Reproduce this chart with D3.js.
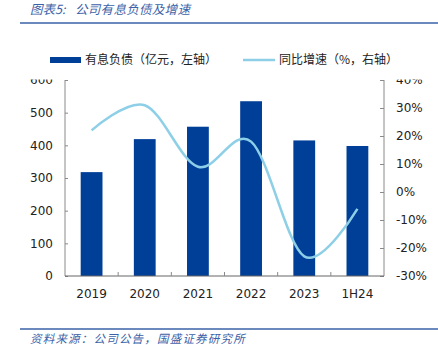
<!DOCTYPE html>
<html><head><meta charset="utf-8">
<script src="https://cdn.jsdelivr.net/npm/d3@7"></script>
<style>body{margin:0;background:#fff}svg{display:block}</style>
</head><body>
<svg id="c" width="438" height="345"></svg>
<script>
const categories = ["2019","2020","2021","2022","2023","1H24"];
const debt = [318, 419, 457, 535, 415, 398];
const growth = [22, 31, 9, 18, -23, -6];
const leftTicks = [0,100,200,300,400,500,600];
const rightTicks = [-30,-20,-10,0,10,20,30,40];

const svg = d3.select("#c");
const fontNum = "DejaVu Sans, sans-serif";
const fontCJK = "'Noto Sans CJK SC', sans-serif";
const blue = "#3B62A8";

// title
svg.append("text").attr("x",30).attr("y",14).attr("font-family",fontCJK).attr("font-size",12.5)
  .attr("font-style","italic").attr("fill",blue).text("图表5:");
svg.append("text").attr("x",75).attr("y",14).attr("font-family",fontCJK).attr("font-size",12.5)
  .attr("letter-spacing",0.3).attr("font-style","italic").attr("fill",blue).text("公司有息负债及增速");
svg.append("line").attr("x1",20).attr("x2",438).attr("y1",23).attr("y2",23).attr("stroke",blue).attr("stroke-width",1.5);

const x0=65, x1=384, yB=276, yT=80;
const x = d3.scaleBand().domain(categories).range([x0,x1]).paddingInner(0.59).paddingOuter(0.295);
const xb = d3.scaleBand().domain(categories).range([x0,x1]);
const yL = d3.scaleLinear().domain([0,600]).range([yB,yT]);
const yR = d3.scaleLinear().domain([-30,40]).range([yB,yT]);

svg.append("defs").append("clipPath").attr("id","clipT").append("rect").attr("x",0).attr("y",79.5).attr("width",438).attr("height",240);

// bars
svg.append("g").selectAll("rect").data(debt).join("rect")
  .attr("x",(d,i)=>x(categories[i])).attr("width",x.bandwidth())
  .attr("y",d=>yL(d)).attr("height",d=>yB-yL(d)).attr("fill","#003F98");

// axes
const axCol="#8a8a8a";
const gL = svg.append("g").attr("transform",`translate(${x0},0)`).call(d3.axisRight(yL).tickValues(leftTicks).tickSize(3).tickFormat(""));
gL.selectAll("path,line").attr("stroke",axCol);
const gR = svg.append("g").attr("transform",`translate(${x1},0)`).call(d3.axisLeft(yR).tickValues(rightTicks).tickSize(4).tickFormat(""));
gR.selectAll("path,line").attr("stroke",axCol);
svg.selectAll(".domain").attr("d",`M0,${yB}V${yT}`);
// bottom axis
svg.append("line").attr("x1",x0).attr("x2",x1).attr("y1",yB).attr("y2",yB).attr("stroke","#666").attr("stroke-width",1);
svg.append("g").selectAll("line").data(categories.slice(1)).join("line")
  .attr("x1",d=>xb(d)).attr("x2",d=>xb(d)).attr("y1",yB).attr("y2",yB-4).attr("stroke",axCol);

// tick labels
const tl = svg.append("g").attr("clip-path","url(#clipT)");
tl.selectAll("text.l").data(leftTicks).join("text").attr("class","l")
  .attr("x",53).attr("y",d=>yL(d)).attr("dy","0.36em").attr("text-anchor","end")
  .attr("font-family",fontNum).attr("font-size",12).attr("fill","#222").text(d=>d);
tl.selectAll("text.r").data(rightTicks).join("text").attr("class","r")
  .attr("x",396).attr("y",d=>yR(d)).attr("dy","0.36em").attr("text-anchor","start")
  .attr("font-family",fontNum).attr("font-size",12).attr("fill","#222").text(d=>d+"%");
svg.append("g").selectAll("text").data(categories).join("text")
  .attr("x",d=>xb(d)+xb.bandwidth()/2).attr("y",294).attr("dy","0.36em").attr("text-anchor","middle")
  .attr("font-family",fontNum).attr("font-size",12).attr("fill","#222").text(d=>d);

// line
const line = d3.line().x((d,i)=>xb(categories[i])+xb.bandwidth()/2).y(d=>yR(d)).curve(d3.curveCatmullRom.alpha(0));
svg.append("path").datum(growth).attr("d",line).attr("fill","none").attr("stroke","#8DCFE6").attr("stroke-width",2.5);

// legend
svg.append("rect").attr("x",50).attr("y",57).attr("width",31).attr("height",6).attr("fill","#003F98");
svg.append("text").attr("x",85).attr("y",60).attr("dy","0.36em").attr("font-family",fontCJK).attr("font-size",12).attr("fill","#222").text("有息负债（亿元，左轴）");
svg.append("line").attr("x1",243).attr("x2",275).attr("y1",60).attr("y2",60).attr("stroke","#8DCFE6").attr("stroke-width",2.5);
svg.append("text").attr("x",279).attr("y",60).attr("dy","0.36em").attr("font-family",fontCJK).attr("font-size",12).attr("fill","#222").text("同比增速（%，右轴）");

// footer
svg.append("line").attr("x1",20).attr("x2",438).attr("y1",329).attr("y2",329).attr("stroke",blue).attr("stroke-width",1.5);
svg.append("text").attr("x",30).attr("y",338.5).attr("dy","0.36em").attr("font-family",fontCJK).attr("font-size",11.5)
  .attr("letter-spacing",1.2).attr("font-style","italic").attr("fill",blue).text("资料来源：公司公告，国盛证券研究所");
</script>
</body></html>
